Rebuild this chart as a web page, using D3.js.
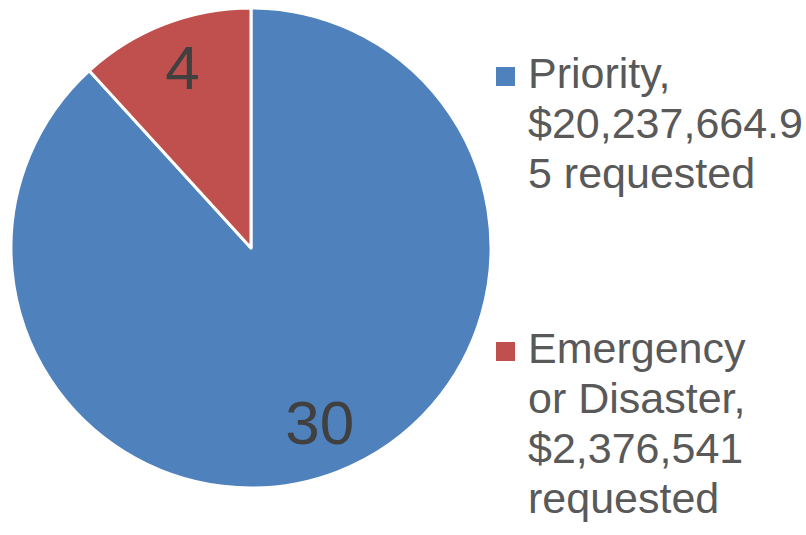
<!DOCTYPE html>
<html>
<head>
<meta charset="utf-8">
<script src="https://cdn.jsdelivr.net/npm/d3@7"></script>
<style>
  body { margin: 0; background: #fff; }
  svg { display: block; font-family: "Liberation Sans", Arial, sans-serif; }
</style>
</head>
<body>
<div id="chart"></div>
<script>
const categories = ["Priority", "Emergency or Disaster"];
const counts = [30, 4];
const legendLines = [
    ["Priority,", "$20,237,664.9", "5 requested"],
    ["Emergency", "or Disaster,", "$2,376,541", "requested"]
];
const colors = ["#4F81BD", "#C0504D"];

const width = 806, height = 535;
const cx = 251, cy = 248, radius = 240;

const svg = d3.select("#chart")
    .append("svg")
    .attr("width", width)
    .attr("height", height);

const data = categories.map((c, i) => ({ name: c, value: counts[i], color: colors[i] }));

const pie = d3.pie()
    .sort(null)
    .value(d => d.value);

const arc = d3.arc().innerRadius(0).outerRadius(radius);
const labelArc = d3.arc().innerRadius(190).outerRadius(190);

const g = svg.append("g")
    .attr("transform", `translate(${cx},${cy})`);

const slices = g.selectAll(".slice")
    .data(pie(data))
    .enter().append("g")
    .attr("class", "slice");

slices.append("path")
    .attr("d", arc)
    .attr("fill", d => d.data.color)
    .attr("stroke", "#fff")
    .attr("stroke-width", 3)
    .attr("stroke-linejoin", "round");

// value labels inside slices
slices.append("text")
    .attr("transform", d => `translate(${labelArc.centroid(d)})`)
    .attr("text-anchor", "middle")
    .attr("dy", "0.3em")
    .attr("font-size", 62)
    .attr("fill", "#404040")
    .text(d => d.data.value);

// legend
const legendTop = [88, 363];
const lineH = 50;

const legend = svg.selectAll(".legend")
    .data(data)
    .enter().append("g")
    .attr("class", "legend");

legend.append("rect")
    .attr("x", 496)
    .attr("y", (d, i) => legendTop[i] - 21)
    .attr("width", 19)
    .attr("height", 19)
    .attr("fill", d => d.color);

legend.each(function(d, i) {
    const t = d3.select(this).append("text")
        .attr("font-size", 43)
        .attr("fill", "#595959");
    legendLines[i].forEach((line, j) => {
        t.append("tspan")
            .attr("x", 528)
            .attr("y", legendTop[i] + j * lineH)
            .text(line);
    });
});
</script>
</body>
</html>
